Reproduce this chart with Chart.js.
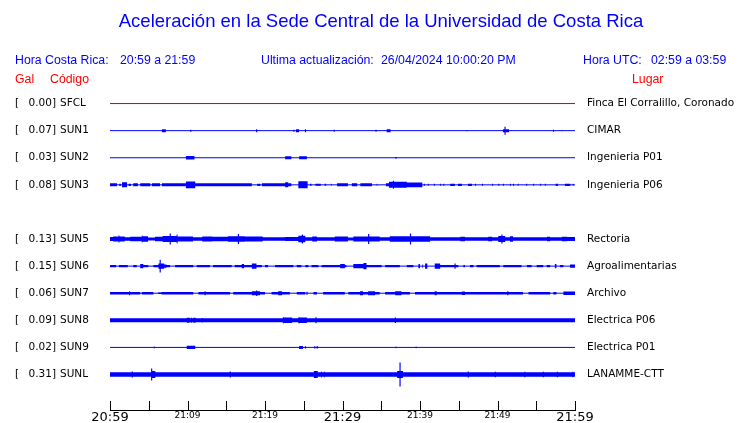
<!DOCTYPE html>
<html>
<head>
<meta charset="utf-8">
<script src="https://cdn.jsdelivr.net/npm/chart.js@4.4.1/dist/chart.umd.min.js"></script>
<style>
  body { margin: 0; background: #fff; }
  canvas { display: block; }
</style>
</head>
<body>
<canvas id="sismo" width="740" height="423"></canvas>
<script>
// estaciones (SUN4 sin datos, queda el hueco)
const codes = ['SFCL', 'SUN1', 'SUN2', 'SUN3', 'SUN4', 'SUN5', 'SUN6', 'SUN7', 'SUN8', 'SUN9', 'SUNL'];
const peaks = [0.00, 0.07, 0.03, 0.08, null, 0.13, 0.15, 0.06, 0.09, 0.02, 0.31];
const places = ['Finca El Corralillo, Coronado', 'CIMAR', 'Ingenieria P01', 'Ingenieria P06', null,
    'Rectoria', 'Agroalimentarias', 'Archivo', 'Electrica P06', 'Electrica P01', 'LANAMME-CTT'];
const baseAmp = [0, 0, 0, 0, null, 1.8, 0, 0, 2, 0, 2.3];

// minutos desde 20:59, etiquetas del eje
const tickMinutes = [0, 10, 20, 30, 40, 50, 60];
const tickLabels = ['20:59', '21:09', '21:19', '21:29', '21:39', '21:49', '21:59'];

// tramos de amplitud [minuto inicio, minuto fin, amplitud]
const sfclBursts = [];
const sun1Bursts = [[6.7, 7.2, 1.5], [10.35, 10.5, 1], [18.85, 19.0, 1.5], [23.65, 23.8, 1], [24.0, 24.4, 1.5],
    [25.15, 25.3, 1.5], [28.85, 29.0, 1], [34.25, 34.4, 1], [35.7, 36.2, 1.5], [46.0, 46.1, 0.7],
    [50.7, 50.9, 1.5], [50.9, 51.05, 4], [51.05, 51.5, 1.5], [57.15, 57.3, 1], [58.25, 58.35, 0.7]];
const sun2Bursts = [[9.8, 10.9, 1.7], [22.6, 23.4, 1.5], [24.4, 25.4, 1.5], [36.8, 37.0, 0.8]];
const sun3Bursts = [[0, 0.9, 1.5], [1.2, 1.4, 1.2], [1.55, 2.2, 2.5], [2.4, 2.7, 1.2], [3.0, 3.6, 1.5],
    [3.9, 5.2, 1.5], [5.4, 6.45, 1.5], [6.7, 9.8, 1.5], [9.8, 11.0, 3.3], [11.0, 18.3, 1.5], [19.0, 19.4, 1.2],
    [19.6, 22.6, 1.5], [22.6, 23.0, 2.5], [23.0, 23.4, 1.5], [24.3, 25.5, 3.5], [25.8, 26.0, 1], [26.5, 27.2, 1],
    [27.7, 27.9, 1], [28.5, 28.6, 1], [29.3, 30.7, 1.5], [31.2, 31.9, 1.5], [32.3, 33.8, 1.5], [34.4, 34.5, 1],
    [35.6, 36.0, 1.5], [36.0, 36.5, 3], [36.5, 36.65, 4], [36.65, 38.3, 3], [38.3, 40.3, 2.3], [40.5, 40.63, 1],
    [41.0, 41.13, 1], [41.8, 41.93, 1], [42.6, 42.73, 1], [43.0, 43.13, 1], [43.9, 44.5, 1.2], [44.9, 45.4, 1.2],
    [46.2, 46.7, 1.2], [47.1, 47.23, 1], [48.0, 48.13, 1], [49.3, 49.43, 1], [50.1, 50.23, 1], [50.7, 50.83, 1],
    [51.6, 51.73, 1], [52.0, 52.13, 1], [52.6, 52.73, 1], [53.7, 53.83, 1], [54.6, 54.73, 1], [55.5, 55.63, 1],
    [56.1, 56.23, 1], [57.5, 57.8, 1.2], [58.7, 59.4, 1.2], [59.7, 59.83, 1]];
const sun4Bursts = null;
const sun5Bursts = [[0, 0.4, 2], [0.4, 1.1, 2.5], [1.1, 1.22, 3.5], [1.22, 1.9, 2.5], [2.6, 4.1, 2.3],
    [4.1, 4.2, 3.5], [4.2, 4.9, 2.7], [4.9, 5.8, 1.5], [5.8, 6.8, 2.3], [6.8, 7.7, 3], [7.7, 7.85, 5.5],
    [7.85, 8.6, 3], [8.6, 8.72, 4.5], [8.72, 10.7, 2.5], [11.9, 13.2, 2.5], [13.2, 15.2, 2.2], [15.2, 16.5, 2.8],
    [16.5, 16.65, 5], [16.65, 17.4, 2.8], [17.4, 19.7, 2.5], [22.6, 24.3, 2], [24.3, 24.75, 3.2],
    [24.75, 24.9, 4.5], [24.9, 25.2, 3.2], [26.1, 26.7, 2.5], [29.0, 30.7, 2.5], [30.7, 31.4, 1.5],
    [31.4, 33.3, 2.5], [33.3, 33.45, 5], [33.45, 34.8, 2.5], [36.1, 38.7, 2.8], [38.7, 38.85, 5.5],
    [38.85, 41.3, 2.8], [45.2, 45.8, 2.3], [48.8, 49.3, 2.3], [50.1, 50.5, 3], [50.5, 50.65, 4.5],
    [50.65, 51.0, 3], [51.6, 52.0, 2.7], [56.4, 56.8, 2.3], [58.3, 59.0, 2.3], [59.0, 60, 2]];
const sun6Bursts = [[0, 0.8, 1.2], [1.15, 2.3, 1.2], [3.0, 3.45, 1.2], [3.9, 4.3, 2], [4.3, 4.95, 1.2],
    [5.6, 6.25, 1.2], [6.25, 6.4, 2.5], [6.4, 6.55, 6.3], [6.55, 7.0, 2.5], [7.0, 7.3, 1.5], [7.3, 7.75, 1.2],
    [8.4, 10.75, 1.2], [11.2, 12.9, 1.2], [13.3, 15.7, 1.2], [16.1, 17.0, 1.2], [17.0, 17.3, 2], [17.3, 18.3, 1.2],
    [18.3, 18.9, 2.5], [18.9, 19.6, 1.2], [20.0, 20.4, 1], [21.3, 23.65, 1.2], [24.1, 24.7, 1.2],
    [25.2, 25.6, 1.2], [26.0, 26.9, 1.2], [27.3, 29.7, 1.2], [29.7, 30.3, 2], [30.3, 30.5, 1.2],
    [31.4, 32.7, 2], [32.7, 33.1, 3], [33.1, 35.05, 1.2], [35.5, 37.4, 1.2], [38.3, 39.15, 1.2], [39.8, 40.0, 2],
    [40.3, 40.4, 1.5], [40.65, 40.95, 2.5], [41.9, 42.6, 2.5], [42.6, 44.45, 1.2], [44.45, 44.6, 2.5],
    [44.6, 44.95, 1.2], [45.6, 45.8, 1], [46.45, 46.9, 1.2], [47.3, 50.3, 1.2], [50.75, 53.1, 1.2],
    [53.8, 54.4, 1.2], [55.05, 55.9, 1.2], [56.35, 56.8, 1.2], [57.4, 57.6, 2], [58.05, 58.5, 1.2],
    [59.35, 60, 1.5]];
const sun7Bursts = [[0, 2.45, 1.2], [2.45, 2.6, 2], [2.6, 3.9, 1.2], [4.1, 5.6, 1.2], [6.2, 6.65, 0.8],
    [6.65, 10.75, 1.2], [11.4, 12.2, 1.2], [12.2, 12.35, 2], [12.35, 15.5, 1.2], [15.9, 18.3, 1.2],
    [18.3, 18.85, 2], [18.85, 19.0, 2.7], [19.0, 19.35, 2], [19.35, 20.0, 1.2], [20.85, 21.7, 1.2],
    [21.7, 22.2, 2], [22.2, 23.2, 1.2], [24.1, 25.2, 1.2], [25.35, 25.5, 1.5], [26.25, 26.7, 1.2],
    [27.5, 30.3, 1.2], [30.75, 32.25, 1.2], [32.25, 32.65, 2], [32.65, 33.3, 1.2], [33.3, 34.2, 2],
    [34.2, 34.8, 1.2], [35.5, 36.8, 1.2], [36.8, 37.6, 2], [37.6, 38.7, 1.2], [39.35, 41.9, 1.2],
    [41.9, 42.15, 2], [42.15, 45.4, 1.2], [45.4, 45.8, 1.8], [45.8, 51.25, 1.2], [51.25, 51.4, 2],
    [51.4, 53.3, 1.2], [54.0, 56.8, 1.2], [57.2, 57.6, 1.2], [58.5, 60, 1.8]];
const sun8Bursts = [[9.9, 10.3, 2.5], [10.45, 10.6, 2.5], [10.75, 11.05, 2.5], [11.85, 12.0, 2.3],
    [22.3, 22.45, 3], [22.45, 23.5, 2.7], [24.3, 24.45, 3], [24.45, 25.4, 2.7], [26.5, 26.65, 3],
    [36.75, 36.9, 2.7]];
const sun9Bursts = [[5.65, 5.75, 1], [9.9, 11.0, 1.7], [24.4, 24.9, 1.5], [25.15, 25.3, 1.2], [26.35, 26.5, 1.2],
    [26.65, 26.85, 1.2], [36.85, 36.95, 0.8], [39.45, 39.55, 0.8]];
const sunlBursts = [[2.8, 2.95, 3], [5.3, 5.45, 6], [5.45, 5.85, 3.5], [15.45, 15.6, 3], [26.3, 26.8, 3.5],
    [27.25, 27.35, 3], [27.6, 27.7, 3], [37.05, 37.35, 3.5], [37.35, 37.5, 12], [37.5, 37.8, 3.5],
    [46.15, 46.3, 3], [49.65, 49.8, 2.7], [53.45, 53.6, 2.7], [55.85, 56.0, 2.7], [57.65, 57.8, 2.7],
    [59.65, 59.8, 2.7]];

const bursts = [sfclBursts, sun1Bursts, sun2Bursts, sun3Bursts, sun4Bursts, sun5Bursts,
    sun6Bursts, sun7Bursts, sun8Bursts, sun9Bursts, sunlBursts];

const BLUE = '#0000ff';
const RED = '#ff0000';
const AMP_PER_ROW = 27;

function envelope(base, list) {
    const pts = [{ t: 0, a: base }];
    list.slice().sort((p, q) => p[0] - q[0]).forEach(([t0, t1, a]) => {
        pts.push({ t: t0, a: a });
        pts.push({ t: t1, a: base });
    });
    pts.push({ t: 60, a: base });
    return pts;
}

const datasets = [];
codes.forEach((code, row) => {
    if (bursts[row] === null) return;
    const color = row === 0 ? '#d00000' : BLUE;
    const env = envelope(baseAmp[row], bursts[row]);
    datasets.push({
        label: code + ' sup',
        data: env.map(p => ({ x: p.t, y: row - p.a / AMP_PER_ROW })),
        borderWidth: 0, pointRadius: 0, stepped: true, fill: false
    });
    datasets.push({
        label: code + ' inf',
        data: env.map(p => ({ x: p.t, y: row + p.a / AMP_PER_ROW })),
        borderWidth: 0, pointRadius: 0, stepped: true, fill: '-1', backgroundColor: color
    });
    datasets.push({
        label: code,
        data: [{ x: 0, y: row }, { x: 60, y: row }],
        borderWidth: 1, borderColor: color, pointRadius: 0, fill: false
    });
});

const textPlugin = {
    id: 'textPlugin',
    afterDraw(chart) {
        const ctx = chart.ctx;
        const xs = chart.scales.x;
        const ys = chart.scales.y;
        ctx.save();
        ctx.textBaseline = 'middle';

        ctx.fillStyle = BLUE;
        ctx.font = '18.5px "Liberation Sans", Arial, sans-serif';
        ctx.textAlign = 'center';
        ctx.fillText('Aceleración en la Sede Central de la Universidad de Costa Rica', 381, 22);

        ctx.textAlign = 'left';
        ctx.font = '12.3px "Liberation Sans", Arial, sans-serif';
        ctx.fillText('Hora Costa Rica:', 15, 61);
        ctx.fillText('20:59 a 21:59', 120, 61);
        ctx.fillText('Ultima actualización:', 261, 61);
        ctx.fillText('26/04/2024 10:00:20 PM', 381, 61);
        ctx.fillText('Hora UTC:', 583, 61);
        ctx.fillText('02:59 a 03:59', 651, 61);

        ctx.fillStyle = RED;
        ctx.fillText('Gal', 15, 80);
        ctx.fillText('Código', 50, 80);
        ctx.fillText('Lugar', 632, 80);

        // etiquetas de estaciones
        ctx.fillStyle = '#000';
        ctx.font = '10.5px "DejaVu Sans", sans-serif';
        codes.forEach((code, row) => {
            if (peaks[row] === null) return;
            const y = ys.getPixelForValue(row);
            ctx.textAlign = 'left';
            ctx.fillText('[', 15, y);
            ctx.textAlign = 'right';
            ctx.fillText(peaks[row].toFixed(2) + ']', 56, y);
            ctx.textAlign = 'left';
            ctx.fillText(code, 60, y);
            ctx.fillText(places[row], 587, y);
        });

        // marcas del eje hacia arriba
        ctx.strokeStyle = '#000';
        ctx.lineWidth = 1;
        const yb = chart.chartArea.bottom;
        xs.ticks.forEach(t => {
            const x = Math.round(xs.getPixelForValue(t.value)) + 0.5;
            ctx.beginPath();
            ctx.moveTo(x, yb);
            ctx.lineTo(x, yb - 9);
            ctx.stroke();
        });
        ctx.restore();
    }
};

new Chart(document.getElementById('sismo'), {
    type: 'line',
    data: { datasets: datasets },
    options: {
        responsive: false,
        animation: false,
        layout: { padding: { left: 110, right: 165, top: 90, bottom: -2 } },
        plugins: { legend: { display: false }, tooltip: { enabled: false } },
        scales: {
            x: {
                type: 'linear', min: 0, max: 60, offset: false,
                grid: { display: false, drawTicks: false },
                border: { display: true, color: '#000', width: 1 },
                ticks: {
                    stepSize: 5, autoSkip: false, maxRotation: 0, padding: 1, color: '#000',
                    callback: v => {
                        const i = tickMinutes.indexOf(v);
                        return i >= 0 ? tickLabels[i] : '';
                    },
                    font: c => ({
                        family: '"DejaVu Sans", sans-serif',
                        size: (c.tick && c.tick.value % 30 === 0) ? 13 : 9,
                        lineHeight: 1
                    })
                }
            },
            y: {
                type: 'linear', display: false, reverse: true, min: -0.5, max: 11.31
            }
        }
    },
    plugins: [textPlugin]
});
</script>
</body>
</html>
